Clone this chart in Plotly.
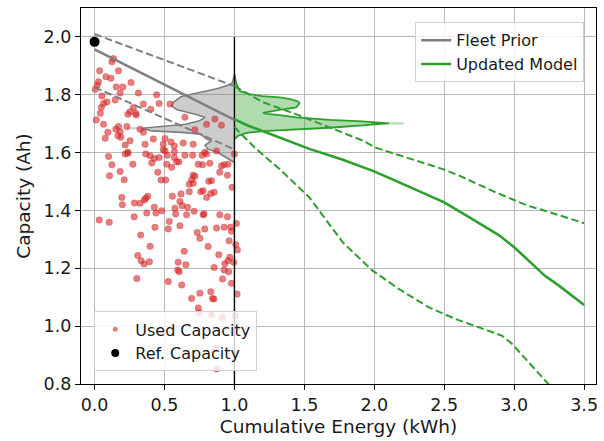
import plotly.graph_objects as go

# ---------------- data ----------------
ref_energy = [0.0]
ref_capacity = [1.983]

prior_energy = [0.0, 1.0]
prior_mean = [1.957, 1.713]
prior_upper = [2.010, 1.830]
prior_lower = [1.826, 1.611]

update_energy_mean = [1.0, 1.1, 1.2, 1.35, 1.54, 1.77, 1.99, 2.15, 2.25, 2.37, 2.5, 2.68,
                      2.76, 2.89, 3.0, 3.13, 3.22, 3.32, 3.41, 3.5]
update_mean = [1.715, 1.693, 1.675, 1.647, 1.612, 1.576, 1.537, 1.503, 1.482, 1.457, 1.428,
               1.376, 1.353, 1.315, 1.273, 1.215, 1.174, 1.140, 1.105, 1.073]

update_energy_upper = [1.0, 1.2, 1.44, 1.68, 1.92, 2.01, 2.25, 2.49, 2.6, 2.87, 3.1, 3.22, 3.5]
update_upper = [1.830, 1.775, 1.733, 1.687, 1.641, 1.617, 1.580, 1.543, 1.522, 1.462, 1.416,
                1.399, 1.356]

update_energy_lower = [1.0, 1.026, 1.157, 1.323, 1.536, 1.608, 1.774, 1.987, 2.177, 2.39, 2.58,
                       2.747, 2.913, 2.984, 3.127, 3.222, 3.30]
update_lower = [1.690, 1.675, 1.612, 1.543, 1.445, 1.399, 1.290, 1.192, 1.128, 1.065, 1.025,
                0.996, 0.967, 0.939, 0.864, 0.812, 0.770]

divider_energy = [1.0, 1.0]
divider_capacity = [0.75, 2.0]

# prior capacity density (width, drawn leftwards from 1.0 kWh)
prior_kde_capacity = [1.866, 1.850, 1.837, 1.822, 1.808, 1.794, 1.773, 1.762, 1.748, 1.733,
                      1.722, 1.710, 1.698, 1.690, 1.684, 1.675, 1.670, 1.664, 1.647, 1.641,
                      1.626, 1.612, 1.601, 1.589, 1.575, 1.566]
prior_kde_width = [0.0, 0.01, 0.02, 0.12, 0.26, 0.38, 0.44, 0.45, 0.41, 0.28,
                   0.21, 0.25, 0.35, 0.52, 0.66, 0.59, 0.38, 0.24, 0.20, 0.165,
                   0.21, 0.19, 0.12, 0.08, 0.03, 0.0]
prior_kde_tail_capacity = [1.684, 1.684]
prior_kde_tail_width = [0.66, 0.77]

# updated capacity density (width, drawn rightwards from 1.0 kWh)
update_kde_capacity = [1.871, 1.840, 1.813, 1.802, 1.795, 1.791, 1.785, 1.777, 1.771, 1.764,
                       1.756, 1.748, 1.741, 1.737, 1.734, 1.730, 1.722, 1.713, 1.708, 1.704,
                       1.701, 1.698, 1.694, 1.686, 1.680, 1.674, 1.668, 1.658, 1.647]
update_kde_width = [0.0, 0.012, 0.038, 0.109, 0.20, 0.323, 0.40, 0.455, 0.465, 0.455,
                    0.442, 0.323, 0.24, 0.204, 0.23, 0.323, 0.442, 0.679, 0.916, 1.05,
                    1.106, 1.0, 0.916, 0.679, 0.442, 0.204, 0.085, 0.026, 0.0]
update_kde_tail_capacity = [1.701, 1.701]
update_kde_tail_width = [1.106, 1.21]

used_energy = [
    0.135, 0.124, 0.171, 0.036, 0.081, 0.117, 0.028, 0.019, 0.261, 0.155, 0.202, 0.005, 0.053,
    0.183, 0.313, 0.444, 0.147, 0.088, 0.064, 0.048, 0.349, 0.461, 0.539, 0.278, 0.402, 0.254,
    0.295, 0.238, 0.297, 0.041, 0.646, 0.012, 0.064, 0.801, 0.860, 0.907, 0.171, 0.231, 0.152,
    0.325, 0.095, 0.183, 0.167, 0.349, 0.717, 0.188, 0.076, 0.420, 0.504, 0.254, 0.361, 0.219,
    0.491, 0.546, 0.570, 0.634, 0.705, 0.491, 0.238, 0.788, 0.872, 1.000,
    0.100, 0.219, 0.238, 0.366, 0.397, 0.427, 0.461, 0.504, 0.520, 0.570, 0.570, 0.646, 0.701,
    0.769, 0.801, 0.124, 0.274, 0.409, 0.516, 0.551, 0.587, 0.603, 0.741, 0.772, 0.824, 0.907,
    0.926, 0.954, 0.183, 0.452, 0.107, 0.705, 0.717, 0.895, 0.950, 0.212, 0.475, 0.509, 0.694,
    0.677, 0.705, 0.817, 0.836, 0.983, 0.677, 0.760, 0.776, 0.831, 0.855, 0.618, 0.556, 0.801,
    0.195, 0.380, 0.366, 0.356, 0.610, 0.285, 0.325, 0.199, 0.627, 0.665, 0.427, 0.575, 0.480,
    0.439, 0.373, 0.580, 0.658, 0.712, 0.776, 0.783, 0.895, 0.950, 0.283, 0.033, 0.105, 0.534,
    1.014, 0.432, 0.610, 0.527, 0.872, 0.926, 0.972, 0.979, 0.788, 0.734, 0.753, 0.330, 0.962,
    0.397, 0.812, 1.009, 1.021, 0.641, 0.888, 0.309, 0.967, 0.333, 0.392, 0.598, 0.954, 0.995,
    0.354, 0.653, 0.594, 0.605, 0.855, 0.931, 0.926, 0.959, 0.302, 0.527, 0.623, 0.915, 0.979,
    0.831, 0.753, 1.019, 0.694, 0.843, 0.853, 0.741, 0.748, 0.836, 0.912, 1.007, 0.872, 0.872,
]
used_capacity = [
    1.925, 1.914, 1.883, 1.883, 1.862, 1.857, 1.845, 1.833, 1.842, 1.827, 1.827, 1.819, 1.796,
    1.806, 1.806, 1.800, 1.782, 1.775, 1.770, 1.756, 1.768, 1.770, 1.768, 1.756, 1.750, 1.741,
    1.736, 1.733, 1.730, 1.736, 1.722, 1.713, 1.698, 1.698, 1.716, 1.695, 1.690, 1.690, 1.681,
    1.681, 1.670, 1.672, 1.658, 1.670, 1.679, 1.653, 1.650, 1.647, 1.649, 1.641, 1.629, 1.626,
    1.629, 1.637, 1.623, 1.633, 1.629, 1.610, 1.601, 1.601, 1.606, 1.595,
    1.587, 1.595, 1.598, 1.595, 1.589, 1.580, 1.583, 1.606, 1.591, 1.603, 1.583, 1.591, 1.591,
    1.591, 1.595, 1.558, 1.560, 1.564, 1.560, 1.549, 1.568, 1.568, 1.560, 1.558, 1.563, 1.554,
    1.558, 1.560, 1.535, 1.532, 1.520, 1.522, 1.518, 1.532, 1.522, 1.506, 1.505, 1.505, 1.506,
    1.491, 1.494, 1.501, 1.503, 1.480, 1.465, 1.465, 1.468, 1.459, 1.463, 1.457, 1.449, 1.445,
    1.445, 1.449, 1.442, 1.436, 1.431, 1.426, 1.425, 1.420, 1.416, 1.411, 1.411, 1.408, 1.399,
    1.391, 1.391, 1.388, 1.385, 1.397, 1.385, 1.388, 1.385, 1.378, 1.378, 1.367, 1.359, 1.362,
    1.355, 1.342, 1.347, 1.336, 1.339, 1.342, 1.342, 1.328, 1.336, 1.324, 1.304, 1.315, 1.295,
    1.276, 1.275, 1.282, 1.264, 1.259, 1.247, 1.244, 1.238, 1.226, 1.223, 1.221, 1.226, 1.221,
    1.215, 1.212, 1.194, 1.188, 1.203, 1.216, 1.194, 1.188, 1.165, 1.154, 1.142, 1.163, 1.148,
    1.119, 1.114, 1.111, 1.096, 1.096, 1.094, 1.063, 1.046, 1.039, 1.031, 1.034, 0.924, 0.852,
]

x_ticks = [0.0, 0.5, 1.0, 1.5, 2.0, 2.5, 3.0, 3.5]
y_ticks = [0.8, 1.0, 1.2, 1.4, 1.6, 1.8, 2.0]

GRAY = "#7f7f7f"
GREEN = "#2ca02c"
FONT = "DejaVu Sans"
DASH = "7.5px,3.5px"

fig = go.Figure()

# prior density (left of 1.0)
fig.add_trace(go.Scatter(
    x=[1.0 - w for w in prior_kde_tail_width], y=prior_kde_tail_capacity, mode="lines",
    line=dict(color="rgba(127,127,127,0.35)", width=2.2), showlegend=False, hoverinfo="skip"))
fig.add_trace(go.Scatter(
    x=[1.0 - w for w in prior_kde_width], y=prior_kde_capacity,
    mode="lines", fill="toself", fillcolor="rgba(127,127,127,0.40)",
    line=dict(color=GRAY, width=1.6), showlegend=False, hoverinfo="skip"))
# updated density (right of 1.0)
fig.add_trace(go.Scatter(
    x=[1.0 + w for w in update_kde_tail_width], y=update_kde_tail_capacity, mode="lines",
    line=dict(color="rgba(44,160,44,0.35)", width=2.2), showlegend=False, hoverinfo="skip"))
fig.add_trace(go.Scatter(
    x=[1.0 + w for w in update_kde_width], y=update_kde_capacity,
    mode="lines", fill="toself", fillcolor="rgba(44,160,44,0.38)",
    line=dict(color=GREEN, width=1.8), showlegend=False, hoverinfo="skip"))

# used capacity points
fig.add_trace(go.Scatter(
    x=used_energy, y=used_capacity, mode="markers", name="Used Capacity",
    marker=dict(color="rgba(214,39,40,0.6)", size=6.5,
                line=dict(color="rgba(214,39,40,0.35)", width=0.8)),
    showlegend=False))

# divider at 1 kWh
fig.add_trace(go.Scatter(
    x=divider_energy, y=divider_capacity, mode="lines",
    line=dict(color="black", width=1.4), showlegend=False, hoverinfo="skip"))

# fleet prior
fig.add_trace(go.Scatter(x=prior_energy, y=prior_upper, mode="lines",
                         line=dict(color=GRAY, width=2, dash=DASH), showlegend=False))
fig.add_trace(go.Scatter(x=prior_energy, y=prior_lower, mode="lines",
                         line=dict(color=GRAY, width=2, dash=DASH), showlegend=False))
fig.add_trace(go.Scatter(x=prior_energy, y=prior_mean, mode="lines", name="Fleet Prior",
                         line=dict(color=GRAY, width=2.6), legend="legend"))

# updated model
fig.add_trace(go.Scatter(x=update_energy_upper, y=update_upper, mode="lines",
                         line=dict(color=GREEN, width=2, dash=DASH), showlegend=False))
fig.add_trace(go.Scatter(x=update_energy_lower, y=update_lower, mode="lines",
                         line=dict(color=GREEN, width=2, dash=DASH), showlegend=False))
fig.add_trace(go.Scatter(x=update_energy_mean, y=update_mean, mode="lines", name="Updated Model",
                         line=dict(color=GREEN, width=2.6), legend="legend"))

# reference capacity
fig.add_trace(go.Scatter(x=ref_energy, y=ref_capacity, mode="markers", name="Ref. Capacity",
                         marker=dict(color="black", size=10), showlegend=False,
                         cliponaxis=False))

# legend entries for the point series (smaller legend markers, as in the original)
fig.add_trace(go.Scatter(x=[None], y=[None], mode="markers", name="Used Capacity",
                         marker=dict(color="rgba(214,39,40,0.6)", size=5), legend="legend2"))
fig.add_trace(go.Scatter(x=[None], y=[None], mode="markers", name="Ref. Capacity",
                         marker=dict(color="black", size=8), legend="legend2"))

axis_common = dict(
    showline=True, linecolor="black", linewidth=1.2, mirror=True,
    ticks="outside", ticklen=5, tickwidth=1.2, tickcolor="black",
    showgrid=True, gridcolor="#b8b8b8", gridwidth=1.1, zeroline=False,
    tickfont=dict(family=FONT, size=17.5, color="#1a1a1a"),
    tickformat=".1f",
)

fig.update_layout(
    width=604, height=441,
    margin=dict(l=81, r=6, t=8, b=57),
    paper_bgcolor="white", plot_bgcolor="white",
    font=dict(family=FONT, color="#1a1a1a"),
    xaxis=dict(range=[-0.097, 3.585], tickvals=x_ticks,
               title=dict(text="Cumulative Energy (kWh)", standoff=5,
                          font=dict(family=FONT, size=18.5)),
               **axis_common),
    yaxis=dict(range=[0.8, 2.1], tickvals=y_ticks,
               title=dict(text="Capacity (Ah)", standoff=8,
                          font=dict(family=FONT, size=18.5)),
               **axis_common),
    legend=dict(x=0.977, y=0.962, xanchor="right", yanchor="top",
                bgcolor="rgba(255,255,255,0.8)", bordercolor="#d0d0d0", borderwidth=1,
                font=dict(family=FONT, size=16), tracegroupgap=0),
    legend2=dict(x=0.0257, y=0.0335, xanchor="left", yanchor="bottom",
                 bgcolor="rgba(255,255,255,0.8)", bordercolor="#d0d0d0", borderwidth=1,
                 font=dict(family=FONT, size=16), tracegroupgap=0),
    showlegend=True,
)

fig.write_html("out.html")
